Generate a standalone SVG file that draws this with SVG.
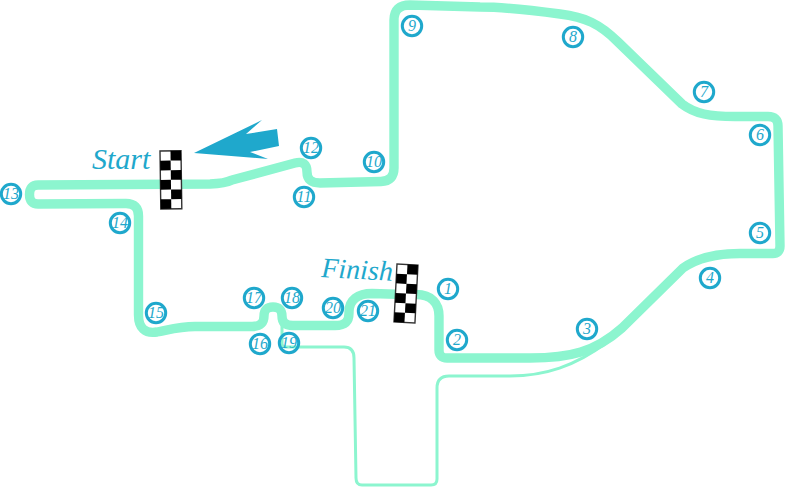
<svg xmlns="http://www.w3.org/2000/svg" width="785" height="487" viewBox="0 0 785 487">
<style>
.track{fill:none;stroke:#8cf5cf;stroke-width:9.4;stroke-linejoin:round}
.pit{fill:none;stroke:#8cf5cf;stroke-width:3}
.c circle{fill:none;stroke:#1fa8cc;stroke-width:3}
text{font-family:"Liberation Serif",serif;font-style:italic;fill:#1fa8cc}
.c text{font-size:16px;text-anchor:middle}
.lbl{font-size:30px}
.b{fill:#000}
</style>
<defs>
<g id="flag">
<rect x="0" y="0" width="21" height="58" fill="#fff" stroke="#333" stroke-width="1.4"/>
<rect class="b" x="10.500" y="0" width="10.500" height="9.700"/>
<rect class="b" x="0" y="9.700" width="10.500" height="9.700"/>
<rect class="b" x="10.500" y="19.300" width="10.500" height="9.700"/>
<rect class="b" x="0" y="29" width="10.500" height="9.700"/>
<rect class="b" x="10.500" y="38.700" width="10.500" height="9.600"/>
<rect class="b" x="0" y="48.300" width="10.500" height="9.700"/>
</g>
</defs>
<g id="connectors">
<path class="pit" d="M282 322V344Q282 347 286 347H344Q354 347 354 358L356 478Q356 485 362 485H431Q437 485 437 479V388Q437 376 449 376H510C545 376 575 366 606 343"/>
<path class="track" d="M405 294.500H416C432 294.500 439 304 439 316V350Q439 358 447 358H530C570 358 595 352 622 328L683 268C700 256 720 253.500 740 253.500H772Q780 254 780 246L778 126Q778 116.500 768 116.500H735C710 116.500 695 114 682 104L618 42C600 24 585 17 560 14C530 10 500 7 480 7L410 5Q394 5 394 20V168Q394 181 381 181.500L320 183Q307 183 307 172C307 164 303 161 295 163L232 180Q225 183.500 210 184L38 185Q29.500 185 29.500 194.500Q29.500 204 38 204L126 203.500Q138.500 203.500 138.500 216V315C138.500 328 145 334 157 332C172 329 180 326.500 195 326.500H252C261 326.500 264 322 264 316C264 310 267 307 273 307C279 307 282 310 282 316C282 322 285 325.500 293 325.500H335C346 325.500 349 321 349 313V312C349 300 358 293.500 372 293.500L405 294.500"/>
</g>
<g id="start-flag" transform="translate(160 151) rotate(-0.8)"><use href="#flag"/></g>
<g id="finish-flag" transform="translate(397 264) rotate(3)"><use href="#flag"/></g>
<g id="arrow"><polygon fill="#1fa8cc" points="194,153 262,120 246,134 277,129 279,146 250,152 268,159"/></g>
<g id="label-start"><text class="lbl" x="92" y="169">Start</text></g>
<g id="label-finish"><text style="font-size:28px" transform="translate(321 277) rotate(3)">Finish</text></g>
<g class="c" id="n1"><circle cx="448" cy="289" r="9.700"/><text x="448" y="294">1</text></g>
<g class="c" id="n2"><circle cx="457" cy="340" r="9.700"/><text x="457" y="345">2</text></g>
<g class="c" id="n3"><circle cx="587" cy="329" r="9.700"/><text x="587" y="334">3</text></g>
<g class="c" id="n4"><circle cx="710" cy="278" r="9.700"/><text x="710" y="283">4</text></g>
<g class="c" id="n5"><circle cx="760" cy="233" r="9.700"/><text x="760" y="238">5</text></g>
<g class="c" id="n6"><circle cx="760" cy="135" r="9.700"/><text x="760" y="140">6</text></g>
<g class="c" id="n7"><circle cx="704" cy="92" r="9.700"/><text x="704" y="97">7</text></g>
<g class="c" id="n8"><circle cx="573" cy="37" r="9.700"/><text x="573" y="42">8</text></g>
<g class="c" id="n9"><circle cx="412" cy="26" r="9.700"/><text x="412" y="31">9</text></g>
<g class="c" id="n10"><circle cx="374" cy="162" r="9.700"/><text x="374" y="167">10</text></g>
<g class="c" id="n11"><circle cx="304" cy="197" r="9.700"/><text x="304" y="202">11</text></g>
<g class="c" id="n12"><circle cx="311" cy="148" r="9.700"/><text x="311" y="153">12</text></g>
<g class="c" id="n13"><circle cx="11" cy="194" r="9.700"/><text x="11" y="199">13</text></g>
<g class="c" id="n14"><circle cx="120" cy="223" r="9.700"/><text x="120" y="228">14</text></g>
<g class="c" id="n15"><circle cx="156" cy="313" r="9.700"/><text x="156" y="318">15</text></g>
<g class="c" id="n16"><circle cx="260" cy="344" r="9.700"/><text x="260" y="349">16</text></g>
<g class="c" id="n17"><circle cx="254" cy="298" r="9.700"/><text x="254" y="303">17</text></g>
<g class="c" id="n18"><circle cx="292" cy="298" r="9.700"/><text x="292" y="303">18</text></g>
<g class="c" id="n19"><circle cx="289" cy="343" r="9.700"/><text x="289" y="348">19</text></g>
<g class="c" id="n20"><circle cx="333" cy="308" r="9.700"/><text x="333" y="313">20</text></g>
<g class="c" id="n21"><circle cx="368" cy="311" r="9.700"/><text x="368" y="316">21</text></g>
</svg>
